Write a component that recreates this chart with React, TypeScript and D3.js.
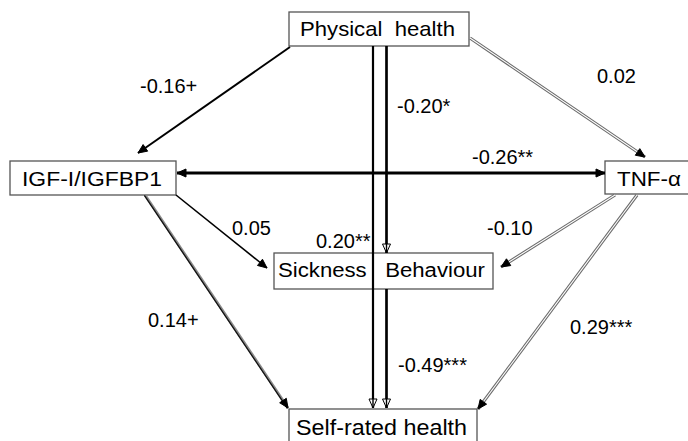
import React from "react";
import * as d3 from "d3";

// ---- data ----
const nodeIds = ["PH", "IGF", "TNF", "SB", "SRH"];
const nodeLabels = ["Physical  health", "IGF-I/IGFBP1", "TNF-α", "Sickness   Behaviour", "Self-rated health"];
const pathFrom = ["PH", "PH", "PH", "PH", "IGF", "IGF", "IGF", "TNF", "TNF", "SB"];
const pathTo = ["IGF", "TNF", "SB", "SRH", "TNF", "SB", "SRH", "SB", "SRH", "SRH"];
const pathCoefficients = ["-0.16+", "0.02", "-0.20*", "0.20**", "-0.26**", "0.05", "0.14+", "-0.10", "0.29***", "-0.49***"];

// ---- layout (positions / styles) ----
const boxLayout: Record<string, { x0: number; y0: number; x1: number; y1: number; tx: number; tw: number; ty: number; fs: number }> = {
  PH: { x0: 289, y0: 12, x1: 469, y1: 46, tx: 300, tw: 155, ty: 36, fs: 21 },
  IGF: { x0: 10, y0: 161, x1: 176, y1: 195, tx: 22, tw: 140, ty: 186, fs: 20 },
  TNF: { x0: 605, y0: 161, x1: 700, y1: 194, tx: 617, tw: 64, ty: 186, fs: 21 },
  SB: { x0: 274, y0: 253, x1: 493, y1: 289, tx: 278, tw: 207, ty: 277, fs: 20 },
  SRH: { x0: 289, y0: 409, x1: 477, y1: 460, tx: 296, tw: 171, ty: 435, fs: 22 },
};

type Sty = "solid" | "thick" | "double" | "darkdouble";
const pathLayout: { x1: number; y1: number; x2: number; y2: number; style: Sty; w: number; both?: boolean; lx: number; ly: number }[] = [
  { x1: 290, y1: 47, x2: 138, y2: 153, style: "solid", w: 2, lx: 140, ly: 93 },
  { x1: 470, y1: 38, x2: 645, y2: 157, style: "double", w: 3.2, lx: 597, ly: 83 },
  { x1: 386.5, y1: 46, x2: 386.5, y2: 253, style: "solid", w: 2.6, lx: 397, ly: 113 },
  { x1: 373, y1: 46, x2: 373, y2: 408, style: "solid", w: 2.2, lx: 316, ly: 248 },
  { x1: 177, y1: 173, x2: 605, y2: 173, style: "thick", w: 3, both: true, lx: 472, ly: 164 },
  { x1: 176, y1: 195, x2: 267, y2: 268, style: "solid", w: 1.6, lx: 232, ly: 235 },
  { x1: 145, y1: 195, x2: 288, y2: 408, style: "darkdouble", w: 2.8, lx: 148, ly: 327 },
  { x1: 615, y1: 195, x2: 501, y2: 267, style: "double", w: 3.2, lx: 487, ly: 235 },
  { x1: 637, y1: 195, x2: 478, y2: 409, style: "double", w: 3.2, lx: 570, ly: 334 },
  { x1: 386.5, y1: 289, x2: 386.5, y2: 408, style: "solid", w: 2.6, lx: 398, ly: 372 },
];

const FONT = "'Liberation Sans', Arial, Helvetica, sans-serif";

function head(x: number, y: number, ang: number, len = 9, hw = 4) {
  const p = d3.path();
  const bx = x - Math.cos(ang) * len;
  const by = y - Math.sin(ang) * len;
  const nx = -Math.sin(ang) * hw;
  const ny = Math.cos(ang) * hw;
  p.moveTo(x, y);
  p.lineTo(bx + nx, by + ny);
  p.lineTo(bx - nx, by - ny);
  p.closePath();
  return p.toString();
}

function Arrow({ d }: { d: (typeof pathLayout)[number] }) {
  const ang = Math.atan2(d.y2 - d.y1, d.x2 - d.x1);
  const line = d3.line()([[d.x1, d.y1], [d.x2, d.y2]]) || "";
  const heads = [head(d.x2, d.y2, ang)];
  if (d.both) heads.push(head(d.x1, d.y1, ang + Math.PI));
  const vertical = Math.abs(d.x1 - d.x2) < 0.5;
  return (
    <g>
      {d.style === "double" && (
        <>
          <path d={line} stroke="#6a6a6a" strokeWidth={d.w} fill="none" />
          <path d={line} stroke="#ffffff" strokeWidth={1.1} fill="none" />
        </>
      )}
      {d.style === "darkdouble" && (
        <>
          <path d={line} stroke="#8a8a8a" strokeWidth={d.w} fill="none" />
          <path d={line} stroke="#111" strokeWidth={1.3} fill="none" transform="translate(-0.6,0.4)" />
        </>
      )}
      {(d.style === "solid" || d.style === "thick") && (
        <path d={line} stroke="#000" strokeWidth={d.w} fill="none" />
      )}
      {heads.map((h, i) => (
        <path key={i} d={h} fill={vertical ? "#fff" : "#000"} stroke="#000" strokeWidth={1} />
      ))}
      {vertical && <path d={line} stroke="#000" strokeWidth={1.4} fill="none" />}
    </g>
  );
}

export default function App() {
  return (
    <svg width={688} height={441} style={{ position: "absolute", left: 0, top: 0, background: "#fff" }} fontFamily={FONT}>
      <rect x={0} y={0} width={688} height={441} fill="#fff" />
      {nodeIds.map((id) => {
        const b = boxLayout[id];
        return <rect key={id} x={b.x0} y={b.y0} width={b.x1 - b.x0} height={b.y1 - b.y0} fill="#fff" stroke="#555" strokeWidth={1.3} />;
      })}
      {pathLayout.map((d, i) => (
        <Arrow key={i} d={d} />
      ))}
      {nodeIds.map((id, i) => {
        const b = boxLayout[id];
        return (
          <text key={id} x={b.tx} y={b.ty} fontSize={b.fs} textLength={b.tw} lengthAdjust="spacingAndGlyphs" style={{ whiteSpace: "pre" }} fill="#000">
            {nodeLabels[i]}
          </text>
        );
      })}
      {pathCoefficients.map((c, i) => (
        <text key={i} x={pathLayout[i].lx} y={pathLayout[i].ly} fontSize={20} fill="#000">
          {c}
        </text>
      ))}
    </svg>
  );
}
